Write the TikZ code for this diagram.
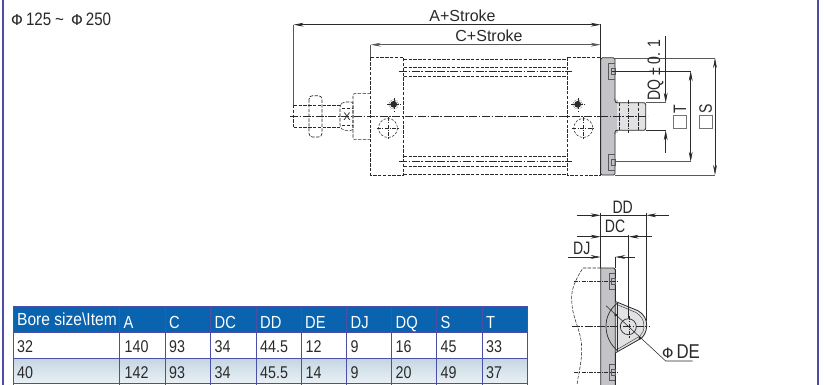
\documentclass[tikz,border=0pt]{standalone}
\usepackage{fontspec}
\setmainfont{Liberation Sans}
\newfontfamily\cond[FakeStretch=.84]{Liberation Sans}
\newfontfamily\condh[FakeStretch=.89]{Liberation Sans}
\newfontfamily\condb[FakeStretch=.78]{Liberation Sans}
\newfontfamily\phif{DejaVu Sans}
\usetikzlibrary{arrows.meta}
\definecolor{frameblue}{HTML}{4A4DA6}
\definecolor{headblue}{HTML}{0A63AE}
\definecolor{gridblue}{HTML}{4A4FA8}
\definecolor{rowtop}{HTML}{C4D6E2}
\definecolor{rowbot}{HTML}{EAF1F6}
\definecolor{ink}{HTML}{2A2A2A}
\definecolor{plate}{HTML}{C4C4C8}
\definecolor{lug}{HTML}{E2E2E4}
\tikzset{
  x=1pt,y=-1pt,
  hid/.style={draw=ink,line width=.55pt,dash pattern=on 3.4pt off 1.4pt},
  axis/.style={draw=ink,line width=.5pt,dash pattern=on 8pt off 1.6pt on 1.6pt off 1.6pt},
  fine/.style={draw=ink,line width=.4pt,dash pattern=on 4pt off 1.2pt on 1.2pt off 1.2pt},
  solidl/.style={draw=ink,line width=.6pt},
  bolt/.style={draw=black!65,line width=.4pt},
  dimx/.style={draw=ink,line width=.55pt},
  dimg/.style={draw=black!65,line width=.7pt},
  both/.style={{Stealth[length=10pt,width=3.8pt]}-{Stealth[length=10pt,width=3.8pt]}},
  tipend/.style={-{Stealth[length=10pt,width=3.8pt]}},
  lbl/.style={inner sep=0pt,text=ink,font=\fontsize{16}{17}\selectfont},
  lblc/.style={inner sep=0pt,text=ink,font=\fontsize{18}{19}\selectfont\condb},
  th/.style={inner sep=0pt,anchor=base west,text=white,font=\fontsize{17.5}{18}\selectfont\cond},
  thw/.style={inner sep=0pt,anchor=base west,text=white,font=\fontsize{17.5}{18}\selectfont\condh},
  td/.style={inner sep=0pt,anchor=base west,text=ink,font=\fontsize{17}{18}\selectfont\cond},
  box/.style={draw=black!55,line width=.7pt,minimum size=12.5pt,inner sep=0pt},
  dot/.style={circle,fill=ink,inner sep=0pt,minimum size=3.2pt}
}
\begin{document}
\begin{tikzpicture}
\useasboundingbox (0,0) rectangle (824,385);
\fill[white] (0,0) rectangle (824,385);
% frame
\draw[frameblue,line width=1.4pt] (3,0) -- (3,385);
\draw[frameblue,line width=1.4pt] (818,0) -- (818,385);
% title
\node[inner sep=0pt,anchor=base west,text=ink] (title) at (11,25.5) {\fontsize{15}{16}\selectfont\phif Φ\hspace{3pt}\fontsize{18}{19}\selectfont\cond 125\hspace{4pt}\textasciitilde\hspace{7pt}\fontsize{15}{16}\selectfont\phif Φ\hspace{3pt}\fontsize{18}{19}\selectfont\cond 250};
% main view ------------------------------------------------------
\coordinate (aL) at (293.7,24.7); \coordinate (aR) at (600.7,24.7);
\coordinate (cL) at (370.7,44.7); \coordinate (cR) at (600.7,44.7);
\draw[dimg] (293.7,105) -- (aL); \draw[dimg] (370.7,57.5) -- (cL); \draw[dimx] (600.7,24) -- (600.7,58);
\draw[dimx,both] (aL) -- (aR);
\draw[dimg,both] (cL) -- (cR);
\node[lbl] (alabel) at (462.5,16) {A+Stroke};
\node[lbl] (clabel) at (489,36) {C+Stroke};
% blocks
\draw[hid] (370.7,57.5) rectangle (403.7,175);
\draw[hid] (567.7,57.5) rectangle (600.7,175);
\foreach \y in {59,67,76,156.7,166,174}{\draw[hid] (403.7,\y) -- (567.7,\y);}
\draw[axis] (399,71) -- (572,71);
\draw[axis] (399,161.7) -- (572,161.7);
\draw[axis] (290,116.7) -- (600,116.7);
% rod
\draw[hid,line width=.8pt] (293.7,105) -- (340,105);
\draw[hid,line width=.8pt] (293.7,127.5) -- (340,127.5);
\draw[hid] (293.7,105) -- (293.7,127.5);
\draw[hid,line width=.7pt,rounded corners=3.5pt] (309,95.7) rectangle (322,137);
\draw[hid,rounded corners=2pt] (340,105) -- (343,102) -- (353,102) -- (353,130.3) -- (343,130.3) -- (340,127) -- cycle;
\draw[hid,line width=.45pt] (342,108) -- (352,108); \draw[hid,line width=.45pt] (342,125) -- (352,125);
\node[inner sep=0pt,text=ink,font=\fontsize{11}{11}\selectfont] (xmark) at (347,116.7) {X};
\draw[hid,rounded corners=1pt] (370.7,93.7) -- (353,93.7) -- (353,139.3) -- (370.7,139.3);
% ports
\foreach \x in {393.7,577.7}{
  \fill[ink] (\x,104.3) circle (3.4);
  \draw[ink,line width=.5pt,densely dotted] (\x,104.3) circle (4.8);
  \draw[fine] (\x-6.5,104.3) -- (\x+6.5,104.3);
  \draw[fine] (\x,97.8) -- (\x,110.8);
}
\foreach \x in {388,583.3}{
  \draw[hid,dash pattern=on 2.5pt off 1.5pt] (\x,128) circle (9.5);
  \draw[fine] (\x-11,128) -- (\x+11,128);
  \draw[fine] (\x,117) -- (\x,139);
}
% flange
\draw[solidl,fill=plate,line width=.7pt,rounded corners=1.5pt] (600.7,57.8) -- (615,57.8) -- (615,175) -- (600.7,175) -- cycle;
\draw[solidl,line width=.9pt] (600.7,57.8) -- (600.7,175);
\fill[plate] (613,100.2) rectangle (618,132.8);
\fill[lug,rounded corners=2pt] (617,102.7) -- (645.7,102.7) -- (645.7,130.3) -- (617,130.3) -- cycle;
\draw[solidl,rounded corners=2pt,line width=.8pt] (615,99) -- (615,102.7) -- (645.7,102.7) -- (645.7,130.3) -- (615,130.3) -- (615,134);
\draw[hid,line width=.4pt] (619,103) -- (619,130);
\draw[hid,line width=.4pt] (638,103) -- (638,130);
\draw[fine] (628,100) -- (628,133);
\draw[axis] (600,116.7) -- (648,116.7);
\foreach \y in {71,161.7}{
  \draw[bolt] (615,\y-8) -- (608,\y-8) -- (608,\y+8) -- (615,\y+8);
  \draw[bolt] (611,\y-3) rectangle (615,\y+3);
}
% right dimensions
\draw[dimg] (615,58) -- (715,58);
\draw[dimg] (615,175) -- (715,175);
\draw[dimx] (612,71) -- (690.7,71);
\draw[dimg] (615,161.7) -- (690.7,161.7);
\draw[dimg,line width=.45pt] (645.7,102.7) -- (666,102.7);
\draw[dimx] (645.7,130.3) -- (666,130.3);
\coordinate (sT) at (715,58); \coordinate (sB) at (715,175);
\coordinate (tT) at (690.7,71); \coordinate (tB) at (690.7,161.7);
\coordinate (qTop) at (665.7,36); \coordinate (qBot) at (665.7,153);
\coordinate (qA) at (665.7,102.7); \coordinate (qB) at (665.7,130.3);
\draw[dimx,both] (sT) -- (sB);
\draw[dimx,both] (tT) -- (tB);
\draw[dimx,tipend] (qTop) -- (qA);
\draw[dimx,tipend] (qBot) -- (qB);
\node[lblc,rotate=90] (dq) at (655.5,70) {DQ ± 0. 1};
\node[box] (tbox) at (680,122) {};
\node[lblc,rotate=90,anchor=center] (tlabel) at (680,109) {T};
\node[box] (sbox) at (705.7,122) {};
\node[lblc,rotate=90,anchor=center] (slabel) at (705.7,109) {S};
% detail view ----------------------------------------------------
\draw[hid] (600.7,268) -- (583,268) .. controls (575,280) and (571,290) .. (571.7,300) .. controls (572,320) and (582,330) .. (581.7,350) .. controls (581.5,365) and (578,375) .. (577,385);
\fill[plate] (600.7,268) rectangle (615.3,385);
\draw[solidl,line width=.9pt] (600.7,385) -- (600.7,268) -- (613.8,268) -- (615.3,269.5) -- (615.3,385);
% lug
\path[fill=lug] (615.5,302) -- (616,301.7) -- (638,310.7) .. controls (644,314) and (647,320) .. (646.7,326) .. controls (646.5,331) and (644.5,335) .. (641.7,338) -- (615.7,352.7) -- cycle;
\draw[solidl,line width=.8pt] (616,301.7) -- (638,310.7) .. controls (644,314) and (647,320) .. (646.7,326) .. controls (646.5,331) and (644.5,335) .. (641.7,338) -- (615.7,352.7);
\draw[solidl,line width=.4pt] (618,305) -- (636,312.5) .. controls (641,315.5) and (644,320) .. (644,326) .. controls (644,330) and (642.5,333.5) .. (640,336) -- (618,349);
\draw[solidl,line width=.7pt] (617.5,303) .. controls (610,309) and (606,317) .. (606,326) .. controls (606,336) and (610,344) .. (617.5,351);
\draw[solidl,line width=.7pt] (617.7,303) -- (617.7,350.5);
\draw[solidl,line width=.7pt,fill=lug] (628.3,326.7) circle (8);
\draw[axis] (571.7,326.7) -- (650,326.7);
\draw[fine] (628.7,316) -- (628.7,338);
\foreach \y in {281,371.7}{
  \draw[bolt] (615.3,\y-8) -- (609,\y-8) -- (609,\y+8) -- (615.3,\y+8);
  \draw[bolt] (611,\y-3) rectangle (615.3,\y+3);
  \draw[fine] (574,\y) -- (618,\y);
}
\coordinate (ddL) at (600.7,215.3); \coordinate (ddR) at (646.3,215.3);
\coordinate (dcL) at (600.7,236.7); \coordinate (dcR) at (628.7,236.7);
\coordinate (djL) at (600.7,257); \coordinate (djR) at (615.3,257);
\coordinate (ddLs) at (577,215.3); \coordinate (ddRs) at (669,215.3);
\coordinate (dcLs) at (577,236.7); \coordinate (dcRs) at (651.7,236.7);
\coordinate (djLs) at (568,257); \coordinate (djRs) at (635,257);
\draw[dimx] (600.7,213) -- (600.7,268);
\draw[dimx] (646.3,213) -- (646.3,321);
\draw[dimx] (628.7,235) -- (628.7,318);
\draw[dimx] (615.3,257) -- (615.3,268);
\draw[dimx,tipend] (ddLs) -- (ddL); \draw[dimx,tipend] (ddRs) -- (ddR);
\draw[dimx] (ddL) -- (ddR);
\draw[dimx,tipend] (dcLs) -- (dcL); \draw[dimx,tipend] (dcRs) -- (dcR);
\draw[dimx] (dcL) -- (dcR);
\draw[dimx,tipend] (djLs) -- (djL); \draw[dimx,tipend] (djRs) -- (djR);
\node[lblc] (ddt) at (622.7,207) {DD};
\node[lblc] (dct) at (615,226.7) {DC};
\node[lblc] (djt) at (581.7,248) {DJ};
\coordinate (leadA) at (606,305.7); \coordinate (leadB) at (665.7,361); \coordinate (leadC) at (692.7,361);
\draw[dimx] (leadA) -- (leadB) -- (leadC);
\node[dot] (d1) at (615.7,315) {}; \node[dot] (d2) at (640,338) {};
\node[inner sep=0pt,text=ink,anchor=base] (de) at (681,358.5) {\fontsize{14.5}{15}\selectfont\phif Φ\hspace{3pt}\fontsize{20}{20}\selectfont\cond DE};
% table ----------------------------------------------------------
\fill[headblue] (13,306) rectangle (527,332);
\fill[white] (13,332) rectangle (527,358);
\shade[top color=rowtop,bottom color=rowbot] (13,358) rectangle (527,383.5);
\foreach \x in {13,119,165,210,256,301,346,391,436,482,527}{\draw[gridblue,line width=1pt] (\x,306) -- (\x,385);}
\foreach \y in {306,332,358,383.5}{\draw[gridblue,line width=1pt] (13,\y) -- (527,\y);}
\foreach \t/\x in {A/123.5,C/169,DC/214.5,DD/260,DE/305,DJ/350.5,DQ/395.5,S/440.5,T/486}{\node[th] at (\x,328) {\t};}
\node[thw] (hd) at (17,325) {Bore size\textbackslash Item};
\foreach \r/\y in {{32,140,93,34,44.5,12,9,16,45,33}/352.7,{40,142,93,34,45.5,14,9,20,49,37}/378}{
  \foreach \v [count=\i] in \r {
    \pgfmathsetmacro{\px}{{17,124.5,169,214.5,260,305.5,350.5,395.5,440.5,486}[\i-1]}
    \node[td] at (\px,\y) {\v};
  }
}
\end{tikzpicture}
\end{document}
